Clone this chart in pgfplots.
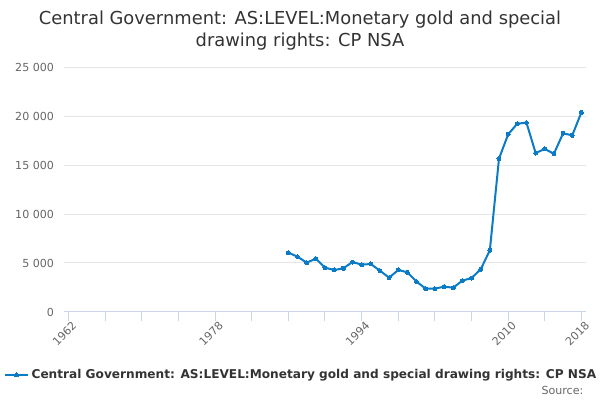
\documentclass[border=0pt]{standalone}
\usepackage{fontspec}
\setmainfont{DejaVu Sans}
\usepackage{pgfplots}
\pgfplotsset{compat=1.18}
\definecolor{linec}{HTML}{0A7BC4}
\definecolor{gridc}{HTML}{E6E6E6}
\definecolor{axisc}{HTML}{CCD6EB}
\definecolor{tickc}{HTML}{666666}
\definecolor{titlec}{HTML}{333333}
\begin{document}
\begin{tikzpicture}[x=1pt,y=1pt]
\path[use as bounding box] (0,0) rectangle (450,300);
\node[align=center, text=titlec, font=\fontsize{13.4}{17}\selectfont] at (225,277) {Central Government: AS:LEVEL:Monetary gold and special\\drawing rights: CP NSA};
\begin{axis}[
  at={(48pt,66pt)}, anchor=south west,
  scale only axis, width=391.5pt, height=183.75pt,
  xmin=1961.5, xmax=2018.5, ymin=0, ymax=25000,
  xtick={1962,1978,1994,2010,2018},
  minor xtick={1966,1970,1974,1982,1986,1990,1998,2002,2006,2014},
  ytick={0,5000,10000,15000,20000,25000},
  scaled y ticks=false, scaled x ticks=false,
  ymajorgrids, grid style={gridc, line width=0.75pt},
  axis x line*=bottom, axis y line*=left,
  x axis line style={axisc, line width=0.75pt},
  y axis line style={draw=none},
  xtick style={axisc, line width=0.75pt},
  ytick style={draw=none},
  major tick length=7pt, minor tick length=7pt,
  xtick align=outside,
  xticklabel style={rotate=45, anchor=north east, font=\fontsize{8.3}{10}\selectfont, text=tickc, inner sep=1pt, xshift=3pt},
  yticklabel style={font=\fontsize{8.3}{10}\selectfont, text=tickc, anchor=east, xshift=-4pt},
  /pgf/number format/assume math mode=true,
  xticklabel={\pgfmathprintnumber[1000 sep={}]{\tick}},
  yticklabel={\pgfmathprintnumber[1000 sep={\ }]{\tick}},
  legend style={at={(0.455,-0.257)}, anchor=center, draw=none, fill=none, font=\bfseries\fontsize{9.1}{11}\selectfont, text=titlec, inner sep=0pt},
  clip=false,
]
\addplot[color=linec, line width=1.5pt, mark=*, mark size=1.5pt, mark options={line width=0pt}] coordinates {
(1986,6054) (1987,5646) (1988,5034) (1989,5442) (1990,4524) (1991,4286)
(1992,4456) (1993,5102) (1994,4830) (1995,4898) (1996,4218) (1997,3503)
(1998,4286) (1999,4048) (2000,3095) (2001,2381) (2002,2381) (2003,2585)
(2004,2483) (2005,3197) (2006,3469) (2007,4354) (2008,6293) (2009,15646)
(2010,18129) (2011,19218) (2012,19320) (2013,16224) (2014,16633) (2015,16156)
(2016,18231) (2017,18027) (2018,20374)
};
\addlegendentry{Central Government: AS:LEVEL:Monetary gold and special drawing rights: CP NSA}
\end{axis}
\node[anchor=east, text=tickc, font=\fontsize{8.3}{10}\selectfont] at (441,7) {Source:};
\end{tikzpicture}
\end{document}
